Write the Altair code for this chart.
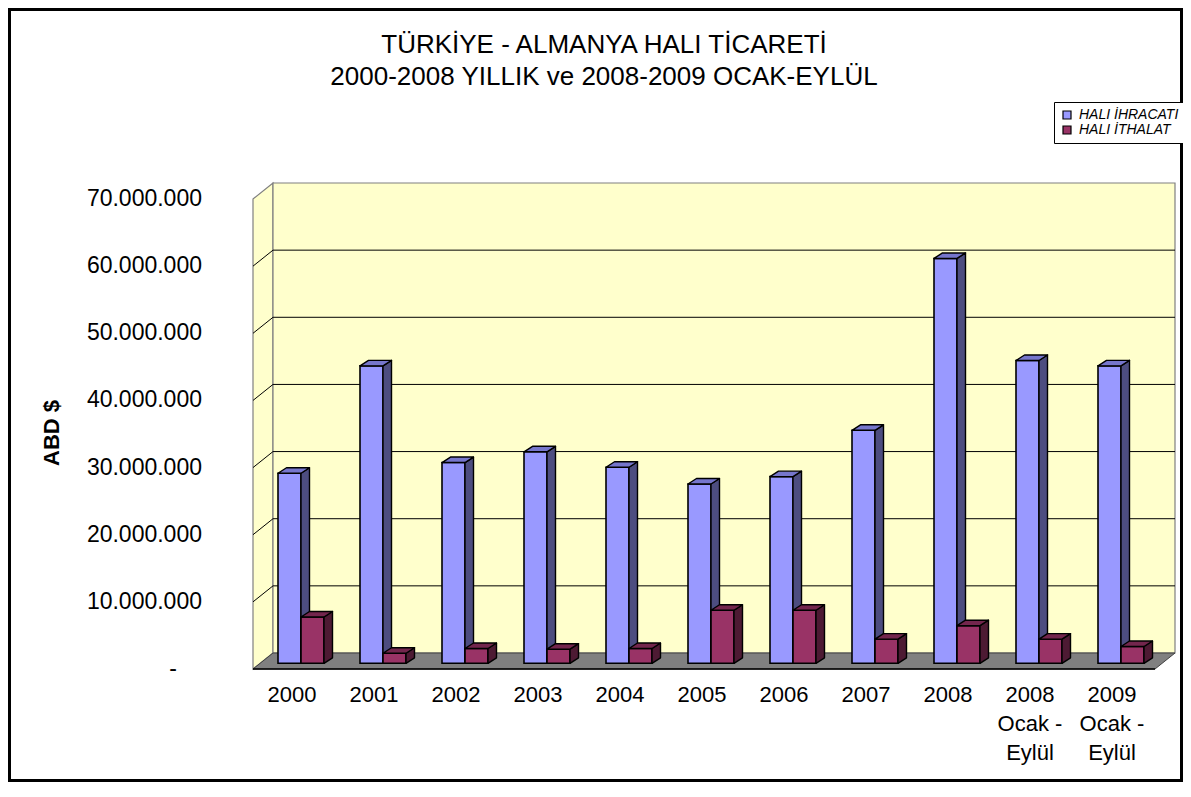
import altair as alt
import pandas as pd

# ---------------- data ----------------
labels = ["2000", "2001", "2002", "2003", "2004", "2005", "2006", "2007", "2008",
          "2008\nOcak -\nEylül", "2009\nOcak -\nEylül"]
ihracat = [28_300_000, 44_300_000, 29_900_000, 31_500_000, 29_200_000, 26_700_000,
           27_800_000, 34_700_000, 60_300_000, 45_100_000, 44_300_000]
ithalat = [6_900_000, 1_500_000, 2_200_000, 2_100_000, 2_200_000, 7_900_000,
           7_900_000, 3_600_000, 5_600_000, 3_600_000, 2_500_000]
series_names = ["HALI İHRACATI", "HALI İTHALAT"]
y_ticks = [0, 10_000_000, 20_000_000, 30_000_000, 40_000_000, 50_000_000, 60_000_000, 70_000_000]
y_tick_labels = ["-", "10.000.000", "20.000.000", "30.000.000", "40.000.000",
                 "50.000.000", "60.000.000", "70.000.000"]
grid_values = [10_000_000, 20_000_000, 30_000_000, 40_000_000, 50_000_000, 60_000_000]
title_lines = ["TÜRKİYE - ALMANYA HALI TİCARETİ", "2000-2008 YILLIK ve 2008-2009 OCAK-EYLÜL"]
y_title = "ABD $"

# ---------------- geometry of the pseudo-3D frame ----------------
N = len(labels)
CELL = 82.0                 # px per category on the front plane
YMAX = 70_000_000
PLOT_H = 470.0              # px from 0 to 70M on the front plane
PX = PLOT_H / YMAX          # px per dollar
D = 20.0 / CELL             # wall depth in x units
DV = 16.0 / PX              # wall depth in y units
W = int(CELL * N + 20)      # 922
H = int(PLOT_H + 16)        # 486

FX = 7.0 / CELL             # bars sit a bit behind the front plane
FV = 5.7 / PX
BW = 23.0 / CELL            # bar width
BDX = 8.5 / CELL            # bar box depth
BDV = 5.5 / PX

xs = alt.Scale(domain=[0, N + D], nice=False, zero=False)
ys = alt.Scale(domain=[0, YMAX + DV], nice=False, zero=False)

FONT = "Liberation Sans"

colors_front = ["#9999FF", "#993366"]
colors_side = ["#4D4D80", "#4D1A33"]
colors_top = ["#7676CC", "#73264D"]

# ---------------- tables built from the arrays ----------------
front_rows, side_rows, top_rows = [], [], []
for s_idx, (sname, vals) in enumerate(zip(series_names, [ihracat, ithalat])):
    for i, v in enumerate(vals):
        c = i + 0.5 + FX
        x0 = c - BW if s_idx == 0 else c
        x1 = c if s_idx == 0 else c + BW
        bar = f"{s_idx}-{i}"
        front_rows.append(dict(bar=bar, series=sname, x0=x0, x1=x1, yb=FV, yt=v + FV))
        side_rows.append(dict(bar=bar, series=sname, x=x1, top=v + FV, bot=FV))
        side_rows.append(dict(bar=bar, series=sname, x=x1 + BDX, top=v + FV + BDV, bot=FV + BDV))
        top_rows.append(dict(bar=bar, series=sname, y=v + FV, l=x0, r=x1))
        top_rows.append(dict(bar=bar, series=sname, y=v + FV + BDV, l=x0 + BDX, r=x1 + BDX))
front_df = pd.DataFrame(front_rows)
side_df = pd.DataFrame(side_rows)
top_df = pd.DataFrame(top_rows)

left_wall = pd.DataFrame(dict(x=[0, D], top=[YMAX, YMAX + DV], bot=[0, DV]))
back_wall = pd.DataFrame(dict(x0=[D], x1=[N + D], y0=[DV], y1=[YMAX + DV]))
floor_df = pd.DataFrame(dict(y=[0, DV], l=[0, D], r=[N, N + D]))
back_grid = pd.DataFrame(dict(x0=[D] * len(grid_values), x1=[N + D] * len(grid_values),
                              y=[g + DV for g in grid_values]))
left_grid = pd.DataFrame(dict(x0=[0] * len(grid_values), x1=[D] * len(grid_values),
                              y0=grid_values, y1=[g + DV for g in grid_values]))
front_edge = pd.DataFrame(dict(x0=[0], x1=[N], y=[0]))
label_df = pd.DataFrame(dict(label=labels, xc=[i + 0.5 for i in range(N)]))
ylab_df = pd.DataFrame(dict(v=y_ticks, t=y_tick_labels))
one = pd.DataFrame(dict(k=[0]))

# ---------------- layers ----------------
frame = alt.Chart(one).mark_rect(fill="transparent", stroke="black", strokeWidth=3).encode(
    x=alt.value(-243.5), x2=alt.value(928.5), y=alt.value(-173.5), y2=alt.value(597.5))

left_wall_l = alt.Chart(left_wall).mark_area(
    orient="vertical", fill="#FFFFCC", stroke="#808080", strokeWidth=1.2).encode(
    x=alt.X("x:Q", scale=xs, axis=None),
    y=alt.Y("top:Q", scale=ys, stack=None, axis=None),
    y2="bot:Q")

back_wall_l = alt.Chart(back_wall).mark_rect(
    fill="#FFFFCC", stroke="#808080", strokeWidth=1.2).encode(
    x=alt.X("x0:Q", scale=xs, axis=None),
    x2="x1:Q",
    y=alt.Y("y0:Q", scale=ys, axis=alt.Axis(
        values=y_ticks, labels=False, domain=False, grid=False,
        ticks=True, tickColor="#808080", tickSize=8, tickWidth=1.2, title=None)),
    y2="y1:Q")

floor_l = alt.Chart(floor_df).mark_area(
    orient="horizontal", fill="#808080", stroke="#404040", strokeWidth=1).encode(
    y=alt.Y("y:Q", scale=ys, stack=None, axis=None),
    x=alt.X("l:Q", scale=xs, stack=None, axis=None),
    x2="r:Q")

back_grid_l = alt.Chart(back_grid).mark_rule(color="black", strokeWidth=1).encode(
    x=alt.X("x0:Q", scale=xs, axis=None), x2="x1:Q",
    y=alt.Y("y:Q", scale=ys, axis=None))

left_grid_l = alt.Chart(left_grid).mark_rule(color="black", strokeWidth=1).encode(
    x=alt.X("x0:Q", scale=xs, axis=None), x2="x1:Q",
    y=alt.Y("y0:Q", scale=ys, axis=None), y2="y1:Q")

front_edge_l = alt.Chart(front_edge).mark_rule(color="black", strokeWidth=1.5).encode(
    x=alt.X("x0:Q", scale=xs, axis=alt.Axis(
        values=list(range(N + 1)), labels=False, domain=False, grid=False,
        ticks=True, tickColor="#404040", tickSize=8, tickWidth=1.2, title=None)),
    x2="x1:Q",
    y=alt.Y("y:Q", scale=ys, axis=None))

color_enc = alt.Color(
    "series:N",
    scale=alt.Scale(domain=series_names, range=colors_front),
    legend=alt.Legend(
        orient="none", legendX=801, legendY=-81, title=None,
        strokeColor="black", fillColor="white", padding=6,
        labelFont=FONT, labelFontSize=14, labelFontStyle="italic", labelColor="black",
        symbolType="square", symbolSize=64, symbolStrokeColor="black",
        symbolStrokeWidth=1.2, symbolOpacity=1, rowPadding=1, labelOffset=5))

bar_layers = []
for s_idx, sname in enumerate(series_names):
    fdf = front_df[front_df.series == sname]
    sdf = side_df[side_df.series == sname]
    tdf = top_df[top_df.series == sname]
    bar_layers.append(alt.Chart(fdf).mark_rect(stroke="black", strokeWidth=1.6).encode(
        x=alt.X("x0:Q", scale=xs, axis=None), x2="x1:Q",
        y=alt.Y("yb:Q", scale=ys, axis=None), y2="yt:Q",
        color=color_enc))
    bar_layers.append(alt.Chart(sdf).mark_area(
        orient="vertical", fill=colors_side[s_idx], stroke="black", strokeWidth=1.4,
        strokeJoin="round").encode(
        x=alt.X("x:Q", scale=xs, axis=None),
        y=alt.Y("top:Q", scale=ys, stack=None, axis=None),
        y2="bot:Q",
        detail="bar:N"))
    bar_layers.append(alt.Chart(tdf).mark_area(
        orient="horizontal", fill=colors_top[s_idx], stroke="black", strokeWidth=1.4,
        strokeJoin="round").encode(
        y=alt.Y("y:Q", scale=ys, stack=None, axis=None),
        x=alt.X("l:Q", scale=xs, stack=None, axis=None),
        x2="r:Q",
        detail="bar:N"))

y_labels = alt.Chart(ylab_df).transform_filter("datum.v > 0").mark_text(
    align="right", baseline="middle", fontSize=23, font=FONT, color="black").encode(
    x=alt.value(-51),
    y=alt.Y("v:Q", scale=ys, axis=None),
    text="t:N")

y_zero_label = alt.Chart(ylab_df).transform_filter("datum.v == 0").mark_text(
    align="right", baseline="middle", fontSize=23, font=FONT, color="black").encode(
    x=alt.value(-76),
    y=alt.Y("v:Q", scale=ys, axis=None),
    text="t:N")

x_labels = alt.Chart(label_df).mark_text(
    align="center", baseline="alphabetic", fontSize=22, font=FONT, lineHeight=29,
    lineBreak="\n", dx=-2, color="black").encode(
    x=alt.X("xc:Q", scale=xs, axis=None),
    y=alt.value(518.7),
    text="label:N")

title_l = alt.Chart(one).mark_text(
    text=title_lines, align="center", baseline="alphabetic", fontSize=26, font=FONT,
    lineHeight=32, color="black").encode(x=alt.value(351), y=alt.value(-130))

ytitle_l = alt.Chart(one).mark_text(
    text=y_title, angle=270, align="center", baseline="middle", fontSize=22,
    fontWeight="bold", font=FONT, color="black").encode(x=alt.value(-201), y=alt.value(250))

chart = alt.layer(
    frame, left_wall_l, back_wall_l, floor_l, back_grid_l, left_grid_l, front_edge_l,
    *bar_layers, y_labels, y_zero_label, x_labels, title_l, ytitle_l
).properties(
    width=W, height=H,
    autosize=alt.AutoSizeParams(type="none"),
    padding={"left": 245, "top": 175, "right": 8, "bottom": 113},
    background="white",
).configure(font=FONT).configure_view(strokeWidth=0)

chart.save("out.html", embed_options={"renderer": "svg", "actions": False})
